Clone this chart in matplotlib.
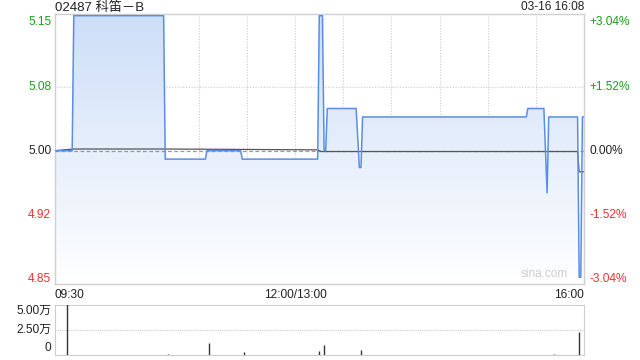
import numpy as np
import matplotlib
matplotlib.use("Agg")
import matplotlib.pyplot as plt
from matplotlib.patches import PathPatch

plt.rcParams['font.family'] = ['Liberation Sans', 'Noto Sans CJK SC', 'DejaVu Sans']

# ---- data (minutes after 09:30, lunch break removed) ----
title = "02487 科笛－B"
stamp = "03-16 16:08"
prev_close = 5.00

price_min = [0, 11, 12, 68, 69, 94, 95, 116, 117, 164, 165, 167, 168, 169, 170,
             188, 190, 191, 192, 294, 295, 305, 307, 308, 326, 327, 328, 329, 330]
price_val = [5.00, 5.00, 5.16, 5.16, 4.99, 4.99, 5.00, 5.00, 4.99, 4.99, 5.16, 5.16, 5.00, 5.00, 5.05,
             5.05, 4.98, 4.98, 5.04, 5.04, 5.05, 5.05, 4.95, 5.04, 5.04, 4.85, 4.85, 5.04, 5.04]

avg_min = [0, 12, 68, 164, 166, 326, 327, 330]
avg_val = [5.000, 5.002, 5.002, 5.001, 4.999, 4.999, 4.975, 4.975]

vol_min = [8, 71, 96, 118, 165, 168, 191, 311, 327]
vol_val = [52000, 800, 12000, 3000, 3500, 10000, 5000, 600, 22700]

left_labels = ["5.15", "5.08", "5.00", "4.92", "4.85"]
right_labels = ["+3.04%", "+1.52%", "0.00%", "-1.52%", "-3.04%"]
label_prices = [5.152, 5.076, 5.00, 4.924, 4.848]
x_labels = ["09:30", "12:00/13:00", "16:00"]
vol_labels = ["5.00万", "2.50万", "0"]
vol_label_pos = [44300, 25000, 7300]

GREEN = "#1a9f1a"
RED = "#f03030"
BLUE = "#5a8ee6"
GRID = "#cccccc"
FS = 8.6

fig = plt.figure(figsize=(6.4, 3.6), dpi=100)
ax = fig.add_axes([0.0852, 0.2111, 0.8273, 0.75])
vax = fig.add_axes([0.0852, 0.0139, 0.8273, 0.1389])

ymin, ymax = 4.842, 5.162
ax.set_xlim(0, 330)
ax.set_ylim(ymin, ymax)

# gradient fill under the price line
x = np.array(price_min, dtype=float)
y = np.array(price_val)
poly = ax.fill_between(x, y, ymin, color="none", lw=0)
grad = np.linspace(1, 0, 256).reshape(-1, 1)
cmap = matplotlib.colors.LinearSegmentedColormap.from_list("g", ["#ffffff", "#cddef8"])
im = ax.imshow(grad, extent=[0, 330, ymin, ymax], aspect="auto", cmap=cmap,
               vmin=0, vmax=1, origin="upper", zorder=1)
path = poly.get_paths()[0]
patch = PathPatch(path, transform=ax.transData, facecolor="none", edgecolor="none")
ax.add_patch(patch)
im.set_clip_path(patch)

# grid
for m in range(30, 330, 30):
    ax.axvline(m, color=GRID, lw=0.8, ls=(0, (1, 1.5)), zorder=0.5)
for p in [5.076, 4.924]:
    ax.axhline(p, color=GRID, lw=0.8, ls=(0, (1, 1.5)), zorder=0.5)
ax.axhline(prev_close, color="#999999", lw=0.9, ls=(0, (3, 2)), zorder=2)

ax.plot(price_min, price_val, color=BLUE, lw=1.1, zorder=3)
ax.plot(avg_min, avg_val, color="#555555", lw=0.9, zorder=2.5)

ax.set_xticks([])
ax.set_yticks([])
for s in ax.spines.values():
    s.set_color("#d0d0d0")
    s.set_linewidth(1.0)

# axis labels
lab_colors = [GREEN, GREEN, "#222222", RED, RED]
for lab, rl, p, c in zip(left_labels, right_labels, label_prices, lab_colors):
    ax.text(-0.006, p, lab, transform=ax.get_yaxis_transform(), ha="right", va="center",
            fontsize=FS, color=c)
    ax.text(1.01, p, rl, transform=ax.get_yaxis_transform(), ha="left", va="center",
            fontsize=FS, color=c)

ax.text(0, -0.02, x_labels[0], transform=ax.transAxes, ha="left", va="top", fontsize=FS, color="#222222")
ax.text(150 / 330, -0.02, x_labels[1], transform=ax.transAxes, ha="center", va="top", fontsize=FS, color="#222222")
ax.text(1, -0.02, x_labels[2], transform=ax.transAxes, ha="right", va="top", fontsize=FS, color="#222222")

fig.text(0.0852, 1 - 7.5 / 360, title, ha="left", va="center", fontsize=9.5, color="#222222")
fig.text(0.9125, 1 - 7.5 / 360, stamp, ha="right", va="center", fontsize=FS, color="#222222")
ax.text(0.925, 0.015, "sina.com", transform=ax.transAxes, ha="center", va="bottom", fontsize=8.5, color="#cccccc")

# volume
vax.set_xlim(0, 330)
vax.set_ylim(0, 50000)
vax.vlines(vol_min, 0, vol_val, color="#333333", lw=1.0, zorder=3)
vax.axhline(25000, color=GRID, lw=0.8, ls=(0, (1, 1)), zorder=1)
vax.set_xticks([])
vax.set_yticks([])
for k in ["top", "left", "bottom"]:
    vax.spines[k].set_color(GRID)
    vax.spines[k].set_linestyle((0, (1, 1)))
    vax.spines[k].set_linewidth(0.8)
vax.spines["right"].set_color("#d0d0d0")
for lab, t in zip(vol_labels, vol_label_pos):
    vax.text(-0.006, t, lab, transform=vax.get_yaxis_transform(), ha="right", va="center",
             fontsize=FS, color="#222222")

fig.savefig("out.png", dpi=100)
